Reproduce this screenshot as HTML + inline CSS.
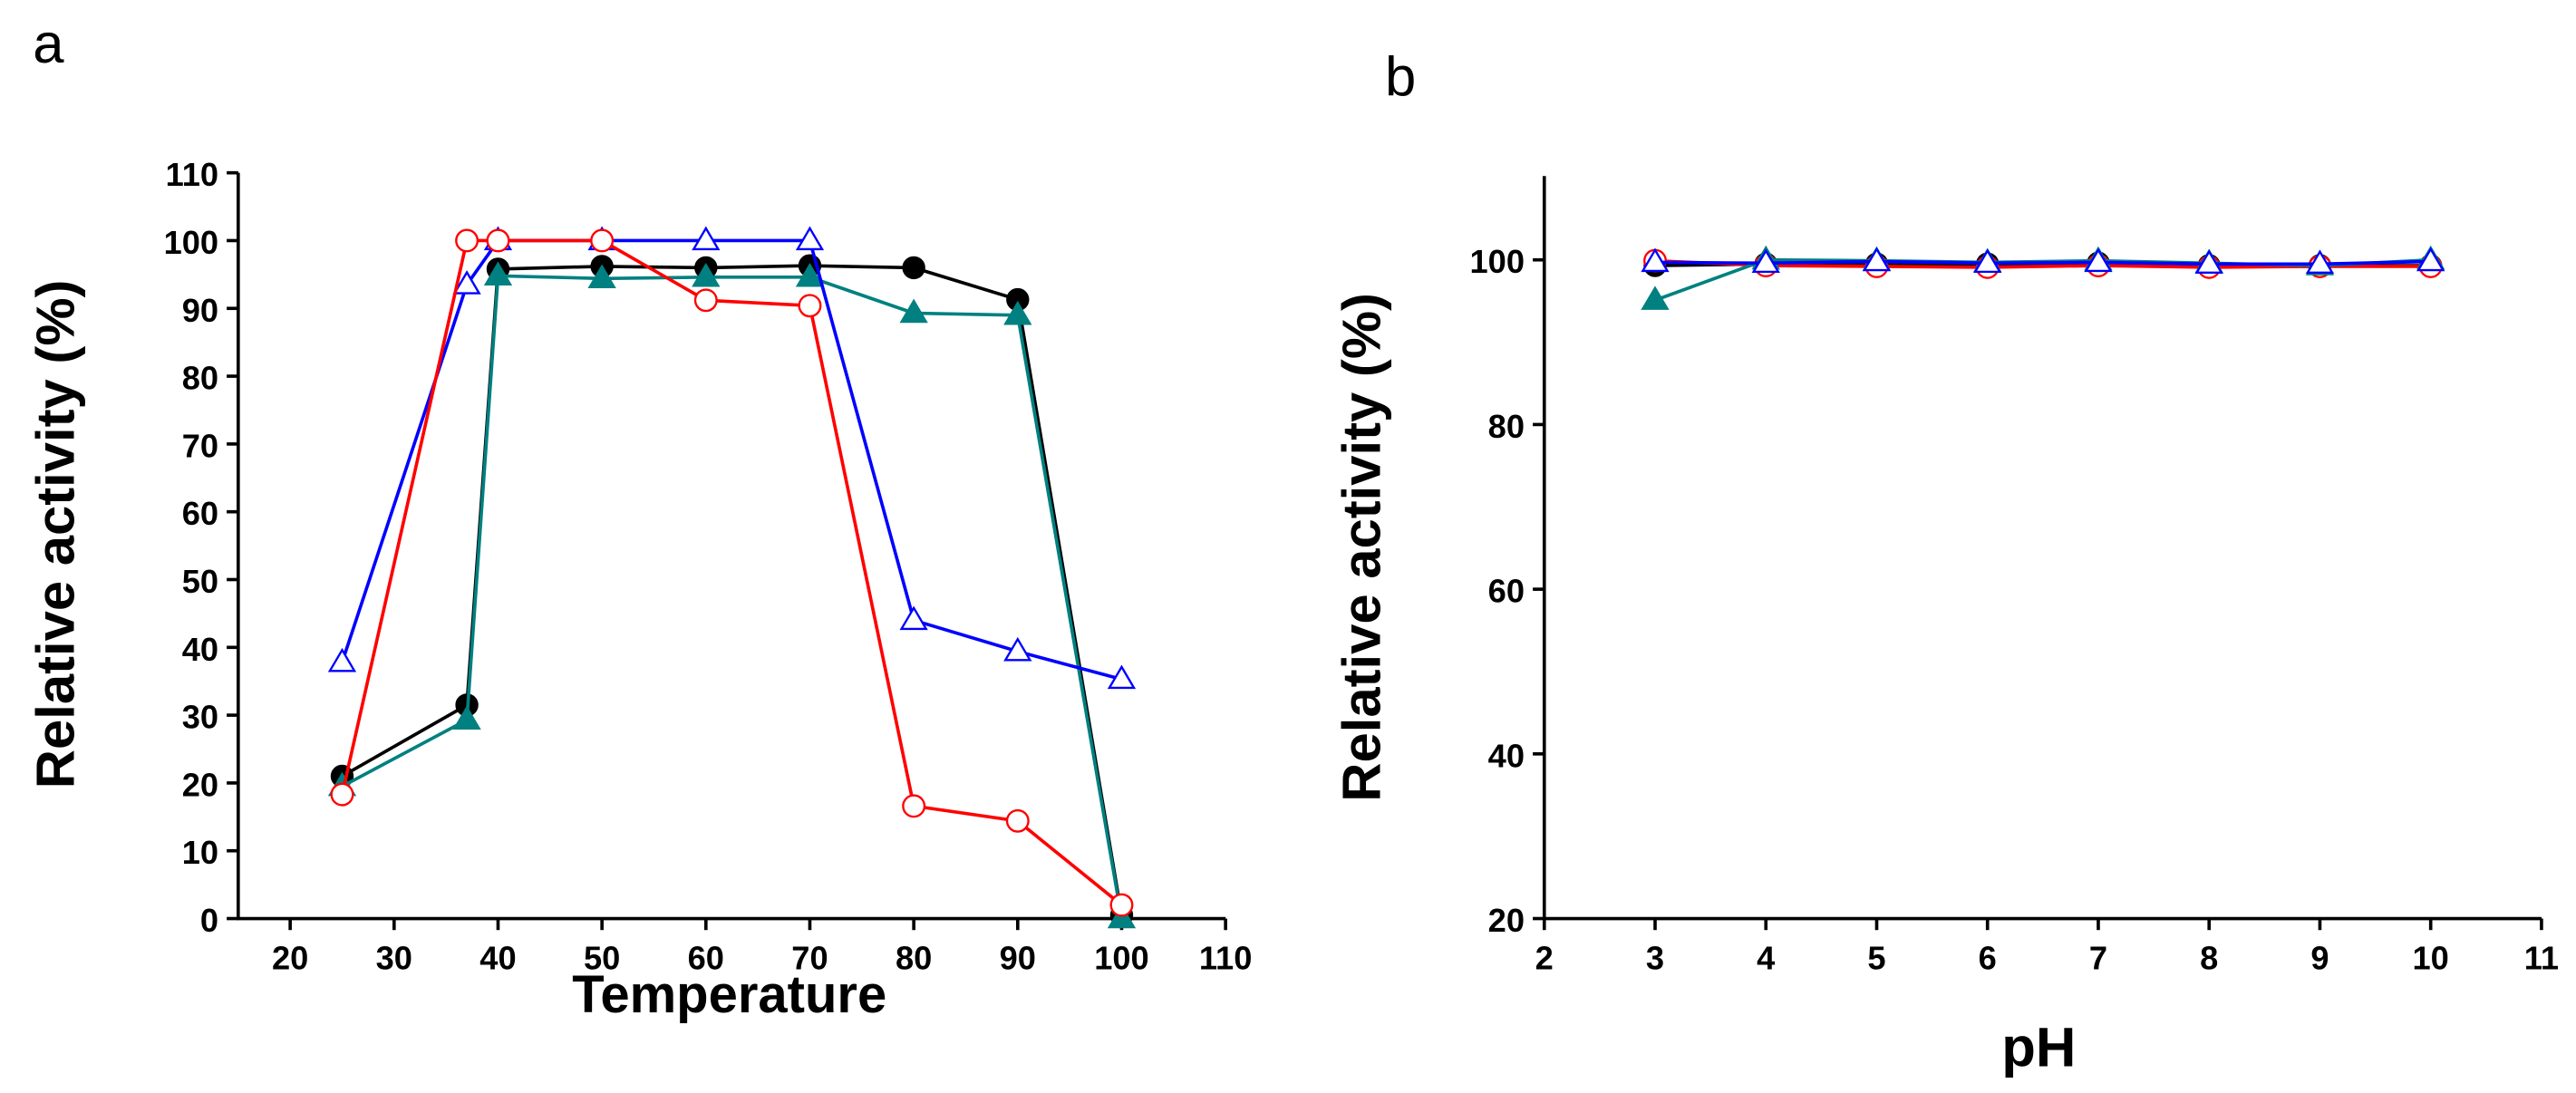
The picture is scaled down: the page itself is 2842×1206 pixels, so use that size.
<!DOCTYPE html>
<html><head><meta charset="utf-8"><style>
html,body{margin:0;padding:0;background:#fff;}
svg{display:block;font-family:"Liberation Sans",Arial,sans-serif;}
</style></head><body>
<svg id="fig" width="2842" height="1206" viewBox="0 0 1568 665" xmlns="http://www.w3.org/2000/svg">
<text x="20" y="38" font-size="34">a</text>
<text x="843" y="58" font-size="34">b</text>
<g id="pa"></g>
<g id="pb"></g>
</svg>
<script>
// Panel a data
const tempX = [25, 37, 40, 50, 60, 70, 80, 90, 100];
const aBlack = [21, 31.5, 95.8, 96.2, 96, 96.3, 96, 91.3, 0.5];
const aRed = [18.3, 100, 100, 100, 91.2, 90.4, 16.6, 14.4, 2];
const aBlue = [37.8, 93.5, 100, 100, 100, 100, 44, 39.4, 35.3];
const aTeal = [19.5, 29.3, 94.8, 94.4, 94.6, 94.6, 89.3, 89, 0];
const aXTicks = [20, 30, 40, 50, 60, 70, 80, 90, 100, 110];
const aYTicks = [0, 10, 20, 30, 40, 50, 60, 70, 80, 90, 100, 110];
// Panel b data
const phX = [3, 4, 5, 6, 7, 8, 9, 10];
const bBlack = [99.3, 99.5, 99.5, 99.5, 99.6, 99.3, 99.3, 99.3];
const bRed = [99.9, 99.3, 99.2, 99.1, 99.3, 99.1, 99.2, 99.2];
const bBlue = [99.7, 99.6, 99.8, 99.6, 99.7, 99.5, 99.5, 99.8];
const bTeal = [95.1, 100, 99.9, 99.7, 99.9, 99.6, 99.3, 100];
const bXTicks = [2, 3, 4, 5, 6, 7, 8, 9, 10, 11];
const bYTicks = [20, 40, 60, 80, 100];

const NS = "http://www.w3.org/2000/svg";
function mk(parent, tag, attrs) {
  const e = document.createElementNS(NS, tag);
  for (const k in attrs) e.setAttribute(k, attrs[k]);
  parent.appendChild(e);
  return e;
}
function marker(g, kind, x, y, color) {
  let e;
  if (kind === 'circleFill') e = mk(g, 'circle', {cx: x, cy: y, r: 6.5, fill: '#000', stroke: '#000'});
  else if (kind === 'circleOpen') e = mk(g, 'circle', {cx: x, cy: y, r: 6.5, fill: '#fff', stroke: color, 'stroke-width': 1.3});
  else {
    const s = 7.5;
    e = mk(g, 'polygon', {points: `${x},${y - s} ${x - s},${y + s * 0.7} ${x + s},${y + s * 0.7}`,
      fill: kind === 'triFill' ? color : '#fff', stroke: color, 'stroke-width': 1.3});
  }
  
  
}
function drawPanel(g, cfg) {
  const {x0, x1, y0, y1, xmin, xmax, ymin, ymax} = cfg;
  const sx = v => x0 + (v - xmin) / (xmax - xmin) * (x1 - x0);
  const sy = v => y0 - (v - ymin) / (ymax - ymin) * (y0 - y1);
  const ax = mk(g, 'path', {d: `M${x0},${cfg.ytop} L${x0},${y0} L${x1},${y0}`, fill: 'none', stroke: '#000', 'stroke-width': 2});
  
  
  cfg.xt.forEach(v => {
    mk(g, 'line', {x1: sx(v), x2: sx(v), y1: y0, y2: y0 + 7, stroke: '#000', 'stroke-width': 2});
    const t = mk(g, 'text', {x: sx(v), y: y0 + 31, 'font-size': cfg.fs, 'font-weight': 'bold', 'text-anchor': 'middle'});
    t.textContent = v;
    
    
  });
  cfg.yt.forEach(v => {
    mk(g, 'line', {x1: x0 - 7, x2: x0, y1: sy(v), y2: sy(v), stroke: '#000', 'stroke-width': 2});
    const t = mk(g, 'text', {x: x0 - 12, y: sy(v) + 8, 'font-size': cfg.fs, 'font-weight': 'bold', 'text-anchor': 'end'});
    t.textContent = v;
    
    
  });
  const xt = mk(g, 'text', {x: cfg.xtx, y: cfg.xty, 'font-size': cfg.xfs, 'font-weight': 'bold', 'text-anchor': 'middle'});
  xt.textContent = cfg.xtitle;
  
  
  const yt = mk(g, 'text', {x: 0, y: 0, 'font-size': 33, 'font-weight': 'bold', 'text-anchor': 'middle',
    transform: `translate(${cfg.ytx},${cfg.yty}) rotate(-90)`});
  yt.textContent = 'Relative activity (%)';
  
  
  cfg.series.forEach(s => {
    const sg = mk(g, 'g', {});
    
    
    const pts = cfg.xs.map((x, i) => `${sx(x)},${sy(s.data[i])}`).join(' ');
    const pl = mk(sg, 'polyline', {points: pts, fill: 'none', stroke: s.color, 'stroke-width': 2});
    
    
    cfg.xs.forEach((x, i) => marker(sg, s.kind, sx(x), sy(s.data[i]), s.color));
  });
}
drawPanel(document.getElementById('pa'), {
  x0: 145, x1: 746, y0: 559, y1: 105, ytop: 105, xmin: 15, xmax: 110, ymin: 0, ymax: 110, fs: 20, xfs: 32,
  xt: aXTicks, yt: aYTicks, xs: tempX, xtitle: 'Temperature', xtx: 444, xty: 616, ytx: 45, yty: 325,
  series: [
    {name: 'series-black', data: aBlack, color: '#000', kind: 'circleFill'},
    {name: 'series-teal', data: aTeal, color: '#008080', kind: 'triFill'},
    {name: 'series-blue', data: aBlue, color: '#0000ff', kind: 'triOpen'},
    {name: 'series-red', data: aRed, color: '#ff0000', kind: 'circleOpen'}
  ]
});
drawPanel(document.getElementById('pb'), {
  x0: 940, x1: 1547, y0: 559, y1: 158, ytop: 107, xmin: 2, xmax: 11, ymin: 20, ymax: 100, fs: 20, xfs: 34,
  xt: bXTicks, yt: bYTicks, xs: phX, xtitle: 'pH', xtx: 1241, xty: 649, ytx: 840, yty: 333,
  series: [
    {name: 'series-black', data: bBlack, color: '#000', kind: 'circleFill'},
    {name: 'series-red', data: bRed, color: '#ff0000', kind: 'circleOpen'},
    {name: 'series-teal', data: bTeal, color: '#008080', kind: 'triFill'},
    {name: 'series-blue', data: bBlue, color: '#0000ff', kind: 'triOpen'}
  ]
});
</script>
</body></html>
